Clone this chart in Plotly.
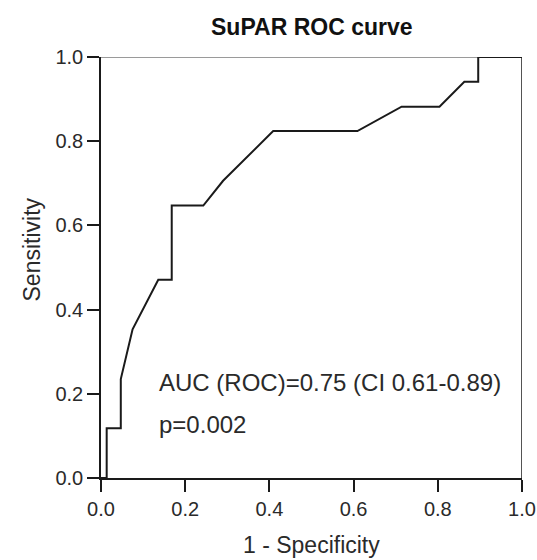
import plotly.graph_objects as go

# ROC curve points (1 - specificity, sensitivity)
fpr = [0.0, 0.0135, 0.0135, 0.047, 0.047, 0.075, 0.136, 0.168, 0.168, 0.243,
       0.290, 0.409, 0.609, 0.714, 0.804, 0.863, 0.896, 0.896, 1.0]
tpr = [0.0, 0.0, 0.118, 0.118, 0.235, 0.353, 0.471, 0.471, 0.647, 0.647,
       0.706, 0.824, 0.824, 0.882, 0.882, 0.941, 0.941, 1.0, 1.0]

tick_vals = [0.0, 0.2, 0.4, 0.6, 0.8, 1.0]
tick_text = ["0.0", "0.2", "0.4", "0.6", "0.8", "1.0"]

title_text = "SuPAR ROC curve"
x_title = "1 - Specificity"
y_title = "Sensitivity"
auc_text = "AUC (ROC)=0.75 (CI 0.61-0.89)"
p_text = "p=0.002"

FONT = "Liberation Sans, Arial, sans-serif"
TXT = "#2a2a2a"

fig = go.Figure()
fig.add_trace(go.Scatter(x=fpr, y=tpr, mode="lines",
                         line=dict(color="#1a1a1a", width=2),
                         hoverinfo="skip", showlegend=False))

fig.update_layout(
    width=537, height=560,
    margin=dict(l=101, r=15, t=57, b=82, autoexpand=False),
    paper_bgcolor="white", plot_bgcolor="white",
    font=dict(family=FONT, color=TXT, size=20),
    showlegend=False,
    shapes=[
        dict(type="line", xref="x", yref="y", x0=0, x1=1, y0=1, y1=1,
             line=dict(color="#9a9a9a", width=2), layer="below"),
        dict(type="line", xref="x", yref="y", x0=1, x1=1, y0=0, y1=1,
             line=dict(color="#1a1a1a", width=1.5), layer="below"),
    ],
    annotations=[
        dict(text="<b>%s</b>" % title_text, xref="paper", yref="paper",
             x=0.5, y=1, yanchor="middle", yshift=30, showarrow=False,
             font=dict(size=23, family=FONT, color="#111")),
        dict(text=x_title, xref="paper", yref="paper", x=0.5, y=0,
             yanchor="middle", yshift=-67, showarrow=False,
             font=dict(size=23, family=FONT, color=TXT)),
        dict(text=y_title, xref="paper", yref="paper", x=0, y=0.5,
             xanchor="center", xshift=-70, yshift=18, textangle=-90,
             showarrow=False, font=dict(size=23, family=FONT, color=TXT)),
        dict(text=auc_text, xref="x", yref="y", x=0.133, y=0.228,
             xanchor="left", yanchor="middle", showarrow=False,
             font=dict(size=24, family=FONT, color=TXT)),
        dict(text=p_text, xref="x", yref="y", x=0.133, y=0.126,
             xanchor="left", yanchor="middle", showarrow=False,
             font=dict(size=24, family=FONT, color=TXT)),
    ],
)

fig.update_xaxes(range=[0, 1], tickvals=tick_vals, ticktext=tick_text,
                 showgrid=False, zeroline=False, showline=True,
                 automargin=False,
                 linecolor="#1a1a1a", linewidth=1.5, ticks="outside",
                 ticklen=12, tickwidth=1.5, tickcolor="#1a1a1a",
                 tickfont=dict(size=20, family=FONT, color=TXT))
fig.update_yaxes(range=[0, 1], tickvals=tick_vals, ticktext=tick_text,
                 showgrid=False, zeroline=False, showline=True,
                 automargin=False,
                 linecolor="#1a1a1a", linewidth=1.5, ticks="outside",
                 ticklen=12, tickwidth=1.5, tickcolor="#1a1a1a",
                 tickfont=dict(size=20, family=FONT, color=TXT))

fig.write_html("out.html",
               config={"displayModeBar": False},
               post_script="document.body.style.margin='0';"
                           "document.body.style.overflow='hidden';")
